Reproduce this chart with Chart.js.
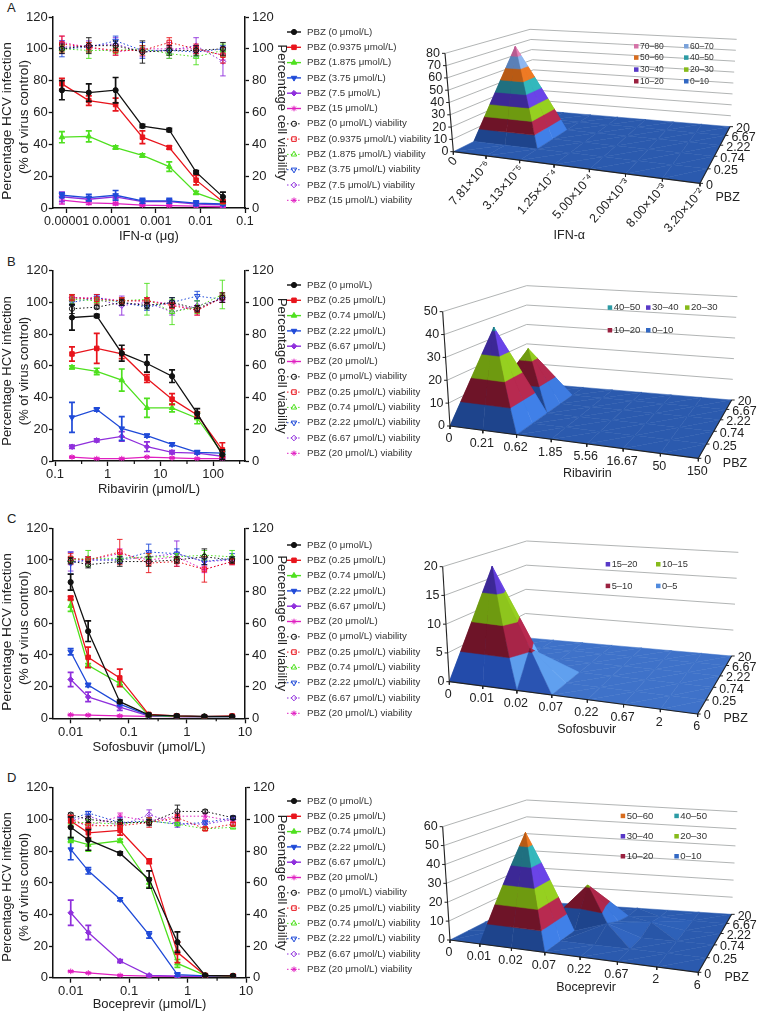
<!DOCTYPE html>
<html>
<head>
<meta charset="utf-8">
<script src="https://cdn.jsdelivr.net/npm/chart.js@4"></script>
<style>
  html, body { margin: 0; padding: 0; background: #fff; }
  #page { position: relative; width: 760px; height: 1013px; overflow: hidden; }
  #page canvas { position: absolute; }
  .tag { position: absolute; font: 13px "Liberation Sans", Arial, sans-serif; color: #222; }
</style>
</head>
<body>
<div id="page">
  <div class="tag" style="left:7px;top:0px">A</div>
  <div class="tag" style="left:7px;top:254px">B</div>
  <div class="tag" style="left:7px;top:511px">C</div>
  <div class="tag" style="left:7px;top:770px">D</div>
  <canvas id="lineA" width="450" height="250" style="left:0;top:0"></canvas>
  <canvas id="lineB" width="450" height="250" style="left:0;top:250px"></canvas>
  <canvas id="lineC" width="450" height="250" style="left:0;top:510px"></canvas>
  <canvas id="lineD" width="450" height="248" style="left:0;top:765px"></canvas>
  <canvas id="surfA" width="345" height="223" style="left:415px;top:20px"></canvas>
  <canvas id="surfB" width="345" height="223" style="left:415px;top:280px"></canvas>
  <canvas id="surfC" width="345" height="223" style="left:415px;top:540px"></canvas>
  <canvas id="surfD" width="345" height="223" style="left:415px;top:790px"></canvas>
</div>
<script>
// --- panel A data
const aDoses = [0.00000781, 0.0000313, 0.000125, 0.0005, 0.002, 0.008, 0.032];
const aPbz = ['0', '0.9375', '1.875', '3.75', '7.5', '15'];
const aInfection = [
  [74, 72.5, 74, 51.5, 49, 22.5, 7],
  [78, 67.5, 65, 44.5, 38, 17.5, 4],
  [44.5, 45, 38, 33, 26, 9.5, 3.5],
  [8, 6.5, 8, 4.5, 4.5, 3, 2.5],
  [7, 5.5, 7, 4, 4, 2.5, 2],
  [5, 3.2, 2.8, 1.8, 1.5, 1.2, 0.8]
];
const aInfectionErr = [
  [6, 5.5, 8, 1, 1, 1, 3],
  [3.5, 3, 4, 4, 1, 3, 1],
  [3.5, 3.5, 1, 1, 3, 1, 0.5],
  [1.5, 2, 3, 1.5, 1.5, 1.5, 0.5],
  [3, 1, 1, 1, 1, 1, 0.5],
  [2.5, 1, 0.8, 0.5, 0.5, 0.3, 0.3]
];
const aViability = [
  [100, 102, 102, 98, 99, 99, 100],
  [103, 101, 99, 99, 104, 100, 96],
  [100, 99, 99, 100, 97, 95, 99],
  [100, 101, 105, 99, 99, 98, 100],
  [101, 102, 103, 98, 99, 102, 92],
  [104, 101, 98, 100, 100, 100, 96]
];
const aViabilityErr = [
  [3, 5, 3, 7, 3, 3, 4],
  [5, 3, 3, 3, 3, 3, 5],
  [2, 5, 2, 2, 3, 5, 4],
  [5, 3, 3, 5, 2, 3, 2],
  [4, 3, 4, 3, 5, 5, 9],
  [4, 2, 2, 2, 2, 2, 3]
];

// --- panel B data
const bDoses = [0.21, 0.62, 1.85, 5.56, 16.67, 50, 150];
const bPbz = ['0', '0.25', '0.74', '2.22', '6.67', '20'];
const bInfection = [
  [90.5, 91.5, 68, 61.5, 53.5, 30, 4],
  [67.5, 71, 67.5, 52, 39, 29, 7],
  [59, 56.5, 51, 33.5, 33.5, 27, 5],
  [27.5, 32.5, 20.5, 16, 10.5, 5.5, 5],
  [9, 13, 15.5, 9, 5.5, 5, 3],
  [2.5, 1.5, 1.5, 2.5, 2, 1.5, 1.5]
];
const bInfectionErr = [
  [8, 1, 5, 5.5, 4, 3, 3],
  [4.5, 9.5, 3, 2.5, 3.5, 2, 4.5],
  [1, 2, 7, 6, 2.5, 3.5, 1],
  [9.5, 1, 7.5, 1, 1, 1, 0.5],
  [1, 1, 3, 3, 1, 0.5, 0.5],
  [0.5, 0.3, 0.3, 0.3, 0.3, 0.3, 0.3]
];
const bViability = [
  [96, 97, 100, 98, 100, 96, 103],
  [103, 102, 101, 101, 98, 95, 103],
  [102, 101, 101, 102, 94, 97, 105],
  [100, 103, 100, 97, 100, 104, 102],
  [103, 102, 98, 100, 94, 98, 102],
  [103, 103, 101, 101, 99, 95, 103]
];
const bViabilityErr = [
  [3, 1, 2, 2, 3, 2, 3],
  [2, 3, 2, 2, 2, 3, 3],
  [3, 2, 2, 10, 8, 4, 9],
  [2, 2, 2, 2, 3, 3, 2],
  [2, 3, 6, 3, 2, 3, 2],
  [2, 2, 2, 2, 2, 3, 2]
];

// --- panel C data
const cDoses = [0.01, 0.02, 0.07, 0.22, 0.67, 2, 6];
const cPbz = ['0', '0.25', '0.74', '2.22', '6.67', '20'];
const cInfection = [
  [86, 55, 10.5, 2.2, 1.5, 1.2, 1.2],
  [76, 38.5, 25.5, 2.5, 1.5, 1, 1.5],
  [71, 33.5, 22, 1.8, 1.2, 1, 1],
  [42, 21, 9, 1.8, 1.2, 1, 1],
  [24.5, 13.5, 7, 1.5, 1, 1, 1],
  [2.2, 2, 1.5, 1.2, 1, 1, 1]
];
const cInfectionErr = [
  [5, 6.5, 1, 1, 0.8, 0.5, 0.5],
  [1, 6.5, 5.5, 0.5, 0.5, 0.3, 0.5],
  [3.5, 1, 1, 0.5, 0.3, 0.3, 0.3],
  [2, 1, 1, 0.3, 0.3, 0.3, 0.3],
  [4.5, 3, 2, 0.3, 0.3, 0.3, 0.3],
  [0.3, 0.3, 0.3, 0.3, 0.3, 0.3, 0.3]
];
const cViability = [
  [99.5, 97, 99, 99, 100, 102, 100],
  [101, 100, 105, 98, 99, 94, 99],
  [100, 101, 101, 102, 102, 103, 102],
  [98, 100, 100, 105, 104, 99, 101],
  [99, 100, 100, 102, 104, 99, 100],
  [101, 100, 104, 100, 102, 94, 99]
];
const cViabilityErr = [
  [2, 2, 3, 3, 2, 5, 2],
  [3, 2, 8, 6, 3, 8, 2],
  [2, 5, 2, 2, 2, 3, 4],
  [7, 2, 2, 5, 3, 2, 3],
  [6, 2, 2, 3, 8, 2, 2],
  [4, 2, 3, 2, 2, 2, 2]
];

// --- panel D data
const dDoses = [0.01, 0.02, 0.07, 0.22, 0.67, 2, 6];
const dPbz = ['0', '0.25', '0.74', '2.22', '6.67', '20'];
const dInfection = [
  [95, 87, 78.5, 62, 22.5, 1.5, 1.2],
  [99, 91.5, 93, 73.5, 16, 1.5, 1.2],
  [87, 84, 86.5, 60, 9, 1.5, 1],
  [81, 67.5, 49.5, 27, 2, 1.2, 1],
  [41, 28.5, 10.5, 1.5, 1, 1, 0.8],
  [4, 3, 1.5, 1, 0.8, 0.8, 0.8]
];
const dInfectionErr = [
  [6.5, 6.5, 1, 5.5, 6.5, 0.5, 0.5],
  [3.5, 3, 3, 1.5, 6.5, 0.5, 0.5],
  [1.5, 4, 1, 3, 2.5, 0.5, 0.3],
  [6.5, 2, 1, 2, 1, 0.3, 0.3],
  [8, 4.5, 1, 0.5, 0.3, 0.3, 0.3],
  [0.3, 0.3, 0.3, 0.3, 0.3, 0.3, 0.3]
];
const dViability = [
  [103, 100, 98, 98, 105, 105, 101],
  [100, 96, 96, 98, 101, 94, 97],
  [98, 98, 97, 99, 97, 94, 95],
  [100, 104, 98, 99, 97, 98, 101],
  [99, 102, 96, 103, 97, 97, 100],
  [99, 96, 102, 99, 102, 102, 99]
];
const dViabilityErr = [
  [1, 2, 2, 2, 4, 1, 1],
  [2, 2, 2, 3, 2, 1, 1],
  [2, 2, 2, 2, 1, 1, 1],
  [2, 1, 3, 2, 1, 1, 1],
  [1, 3, 2, 3, 2, 2, 2],
  [1, 2, 2, 2, 2, 2, 2]
];

// --- 3D surfaces, one row per PBZ level, one column per drug dose
const surfacePbz = ['0', '0.25', '0.74', '2.22', '6.67', '20'];
const aSurfaceDoses = ['0', '7.81×10⁻⁶', '3.13×10⁻⁵', '1.25×10⁻⁴', '5.00×10⁻⁴', '2.00×10⁻³', '8.00×10⁻³', '3.20×10⁻²'];
const aSurface = [
  [0, 0, 0, 0, 0, 0, 0, 0],
  [0, 0, 0, 0, 0, 0, 0, 0],
  [0, 78, 0, 0, 0, 0, 0, 0],
  [0, 0, 0, 0, 0, 0, 0, 0],
  [0, 0, 0, 0, 0, 0, 0, 0],
  [0, 0, 0, 0, 0, 0, 0, 0]
];
const bSurfaceDoses = ['0', '0.21', '0.62', '1.85', '5.56', '16.67', '50', '150'];
const bSurface = [
  [0, 0, 0, 0, 0, 0, 0, 0],
  [0, 41.5, 0, 0, 0, 0, 0, 0],
  [0, 0, 0, 0, 0, 0, 0, 0],
  [0, 25, 0, 0, 0, 0, 0, 0],
  [0, 0, 0, 0, 0, 0, 0, 0],
  [0, 0, 0, 0, 0, 0, 0, 0]
];
const cSurfaceDoses = ['0', '0.01', '0.02', '0.07', '0.22', '0.67', '2', '6'];
const cSurface = [
  [0, 0, 0, 0, 0, 0, 0, 0],
  [0, 19.5, 5.5, 0, 0, 0, 0, 0],
  [0, 0, 0, 0, 0, 0, 0, 0],
  [0, 0, 0, 0, 0, 0, 0, 0],
  [0, 0, 0, 0, 0, 0, 0, 0],
  [0, 0, 0, 0, 0, 0, 0, 0]
];
const dSurfaceDoses = ['0', '0.01', '0.02', '0.07', '0.22', '0.67', '2', '6'];
const dSurface = [
  [0, 0, 0, 0, 0, 0, 0, 0],
  [0, 2, 57, 0, 0, 0, 0, 0],
  [0, 0, 0, 0, 6, 0, 0, 0],
  [0, 0, 0, 21, 2, 3, 0, 0],
  [0, 0, 0, 0, 0, 1, 0, 0],
  [0, 0, 0, 0, 0, 0, 0, 0]
];

// --- styles
const FONT = '"Liberation Sans", Arial, sans-serif';
const INK = '#222';
const COLORS = ['#111111', '#e8141c', '#4fe01f', '#1f4ad8', '#8f2fdc', '#e020c0'];
const MARKERS = [
  { pointStyle: 'circle', rotation: 0, radius: 2.6 },
  { pointStyle: 'rect', rotation: 0, radius: 3.2 },
  { pointStyle: 'triangle', rotation: 0, radius: 3.2 },
  { pointStyle: 'triangle', rotation: 180, radius: 3.2 },
  { pointStyle: 'rectRot', rotation: 0, radius: 2.8 },
  { pointStyle: 'star', rotation: 0, radius: 2.8 }
];
// dark and light face colour of each height band
const BANDS = [
  ['#1e448c', '#4080e8'], ['#6e1428', '#b82a50'], ['#6e9a10', '#96d020'], ['#3c2896', '#6a44e8'],
  ['#207080', '#34b8bc'], ['#b85a14', '#ee7a24'], ['#5a80b8', '#90b8f0'], ['#b85a90', '#e884b8']
];
const BANDS_C0 = ['#234baa', '#6eb4ff'];

// error bars under each dataset, so the layering follows the datasets
const errorBars = {
  id: 'errorBars',
  beforeDatasetDraw(chart, args) {
    const ds = chart.data.datasets[args.index];
    if (!ds.errs) return;
    const { ctx } = chart;
    const sc = chart.scales[ds.yAxisID];
    const cap = ds.viability ? 2.8 : 3;
    ctx.save();
    ctx.strokeStyle = ds.borderColor;
    ctx.lineWidth = ds.viability ? 0.9 : 1.7;
    args.meta.data.forEach((p, i) => {
      const top = sc.getPixelForValue(ds.data[i].y + ds.errs[i]);
      const bot = sc.getPixelForValue(Math.max(0, ds.data[i].y - ds.errs[i]));
      ctx.beginPath();
      ctx.moveTo(p.x, top); ctx.lineTo(p.x, bot);
      ctx.moveTo(p.x - cap, top); ctx.lineTo(p.x + cap, top);
      ctx.moveTo(p.x - cap, bot); ctx.lineTo(p.x + cap, bot);
      ctx.stroke();
    });
    ctx.restore();
  }
};

// short minor ticks on the log axis, the left title and the side legend
const lineExtras = {
  id: 'lineExtras',
  afterDraw(chart, args, opts) {
    const { ctx } = chart;
    const x = chart.scales.x;
    ctx.save();
    ctx.strokeStyle = '#111';
    ctx.lineWidth = 1.2;
    opts.minors.forEach(v => {
      const px = x.getPixelForValue(v);
      ctx.beginPath(); ctx.moveTo(px, x.top); ctx.lineTo(px, x.top + 3); ctx.stroke();
    });
    ctx.save();
    ctx.fillStyle = INK;
    ctx.textAlign = 'center';
    ctx.textBaseline = 'middle';
    ctx.font = opts.titleSize + 'px ' + FONT;
    ctx.translate(7, opts.titleY);
    ctx.rotate(-Math.PI / 2);
    ctx.fillText('Percentage HCV infection', 0, 0);
    ctx.fillText('(% of virus control)', opts.subShift, 17);
    ctx.restore();
    chart.data.datasets.forEach((ds, i) => {
      const y = opts.top + i * 15.3;
      ctx.strokeStyle = ds.borderColor;
      ctx.lineWidth = ds.viability ? 1 : 1.4;
      ctx.setLineDash(ds.borderDash || []);
      ctx.beginPath(); ctx.moveTo(287, y); ctx.lineTo(301, y); ctx.stroke();
      ctx.setLineDash([]);
      ctx.fillStyle = ds.pointBackgroundColor;
      ctx.lineWidth = 1;
      Chart.helpers.drawPoint(ctx, {
        pointStyle: ds.pointStyle, rotation: ds.pointRotation,
        radius: ds.pointRadius, borderWidth: ds.pointBorderWidth
      }, 294, y);
      ctx.fillStyle = '#333';
      ctx.font = '9.7px ' + FONT;
      ctx.textAlign = 'left';
      ctx.textBaseline = 'middle';
      ctx.fillText(ds.label, 307, y);
    });
    ctx.restore();
  }
};

function seriesSet(doses, values, errs, pbz, viability) {
  return values.map((row, s) => ({
    label: 'PBZ (' + pbz[s] + ' μmol/L)' + (viability ? ' viability' : ''),
    data: row.map((v, i) => ({ x: doses[i], y: v })),
    errs: errs[s],
    viability,
    yAxisID: viability ? 'y2' : 'y',
    showLine: true,
    borderColor: COLORS[s],
    borderWidth: viability ? 1 : 1.3,
    borderDash: viability ? [1.5, 2.2] : [],
    pointStyle: MARKERS[s].pointStyle,
    pointRotation: MARKERS[s].rotation,
    pointRadius: MARKERS[s].radius,
    pointBackgroundColor: viability ? 'rgba(255,255,255,0)' : COLORS[s],
    pointBorderColor: COLORS[s],
    pointBorderWidth: 1
  }));
}

function yAxis(position, title, width, padding) {
  return {
    type: 'linear', position, min: 0, max: 120,
    afterBuildTicks: s => { s.ticks = [0, 20, 40, 60, 80, 100, 120].map(value => ({ value })); },
    afterFit: s => { s.width = width; },
    grid: { drawOnChartArea: false, tickLength: 4, tickColor: '#111', tickWidth: 1.3 },
    border: { color: '#111', width: 1.5 },
    ticks: { padding, color: INK, font: { family: FONT, size: 13 } },
    title: { display: !!title, text: title, color: INK, padding: 0, font: { family: FONT, size: 13 } }
  };
}

function lineChart(id, p) {
  const canvas = document.getElementById(id);
  const datasets = seriesSet(p.doses, p.infection, p.infectionErr, p.pbz, false)
    .concat(seriesSet(p.doses, p.viability, p.viabilityErr, p.pbz, true));
  return new Chart(canvas, {
    type: 'scatter',
    data: { datasets },
    options: {
      responsive: false,
      animation: false,
      layout: { padding: { top: p.top, left: 0, right: 450 - 289, bottom: p.pad } },
      plugins: {
        legend: { display: false },
        tooltip: { enabled: false },
        lineExtras: { minors: p.minors, top: p.legendTop, titleY: p.titleY, titleSize: p.titleSize, subShift: p.subShift }
      },
      scales: {
        x: {
          type: 'logarithmic', min: p.xMin, max: p.xMax,
          afterBuildTicks: s => { s.ticks = p.majors.map(value => ({ value })); },
          afterFit: s => { s.height = canvas.height - p.bottom - p.pad; },
          grid: { drawOnChartArea: false, tickLength: 5, tickColor: '#111', tickWidth: 1.3 },
          border: { color: '#111', width: 1.5 },
          ticks: {
            padding: 1, color: INK, maxRotation: 0, autoSkip: false,
            font: { family: FONT, size: p.xTickSize }, callback: v => String(v)
          },
          title: { display: true, text: p.xTitle, color: INK, padding: 0, font: { family: FONT, size: 13 } }
        },
        y: yAxis('left', '', p.left, 1),
        y2: yAxis('right', 'Percentage cell viability', 289 - p.right, 3)
      }
    },
    plugins: [errorBars, lineExtras]
  });
}

lineChart('lineA', {
  doses: aDoses, infection: aInfection, infectionErr: aInfectionErr, viability: aViability, viabilityErr: aViabilityErr,
  pbz: aPbz, xTitle: 'IFN-α (μg)', majors: [0.00001, 0.0001, 0.001, 0.01, 0.1], minors: [], xTickSize: 12.5,
  xMin: 0.00000485, xMax: 0.1, top: 17, bottom: 208, pad: 6, left: 52.7, right: 245, legendTop: 32,
  titleY: 121, titleSize: 13.7, subShift: 4
});
lineChart('lineB', {
  doses: bDoses, infection: bInfection, infectionErr: bInfectionErr, viability: bViability, viabilityErr: bViabilityErr,
  pbz: bPbz, xTitle: 'Ribavirin (μmol/L)', majors: [0.1, 1, 10, 100], minors: [0.32, 3.2, 32, 320], xTickSize: 13,
  xMin: 0.0916, xMax: 404, top: 20.7, bottom: 211, pad: 3, left: 53, right: 245, legendTop: 35,
  titleY: 121, titleSize: 13, subShift: 0
});
lineChart('lineC', {
  doses: cDoses, infection: cInfection, infectionErr: cInfectionErr, viability: cViability, viabilityErr: cViabilityErr,
  pbz: cPbz, xTitle: 'Sofosbuvir (μmol/L)', majors: [0.01, 0.1, 1, 10], minors: [0.032, 0.32, 3.2], xTickSize: 13,
  xMin: 0.00497, xMax: 10, top: 18.3, bottom: 208.3, pad: 5, left: 53, right: 245, legendTop: 35,
  titleY: 122, titleSize: 13.7, subShift: 4
});
lineChart('lineD', {
  doses: dDoses, infection: dInfection, infectionErr: dInfectionErr, viability: dViability, viabilityErr: dViabilityErr,
  pbz: dPbz, xTitle: 'Boceprevir (μmol/L)', majors: [0.01, 0.1, 1, 10], minors: [0.032, 0.32, 3.2], xTickSize: 13,
  xMin: 0.00497, xMax: 10, top: 22.7, bottom: 212.7, pad: 1, left: 53, right: 246, legendTop: 36,
  titleY: 122, titleSize: 13, subShift: 0
});

// --- 3D surfaces

// maps the unit square to a screen quadrilateral
function homography(p) {
  const [[x0, y0], [x1, y1], [x2, y2], [x3, y3]] = p;
  const dx1 = x1 - x2, dx2 = x3 - x2, dx3 = x0 - x1 + x2 - x3;
  const dy1 = y1 - y2, dy2 = y3 - y2, dy3 = y0 - y1 + y2 - y3;
  const den = dx1 * dy2 - dx2 * dy1;
  const g = (dx3 * dy2 - dx2 * dy3) / den, h = (dx1 * dy3 - dx3 * dy1) / den;
  const a = x1 - x0 + g * x1, b = x3 - x0 + h * x3, d = y1 - y0 + g * y1, e = y3 - y0 + h * y3;
  return (u, v) => {
    const w = g * u + h * v + 1;
    return [(a * u + b * v + x0) / w, (d * u + e * v + y0) / w];
  };
}

function mix(c1, c2, t) {
  const rgb = c => [1, 3, 5].map(k => parseInt(c.slice(k, k + 2), 16));
  const a = rgb(c1), b = rgb(c2);
  return 'rgb(' + a.map((v, i) => Math.round(v + (b[i] - v) * t)).join(',') + ')';
}

// keep the part of a polygon whose height is inside lo..hi
function clipBand(poly, lo, hi) {
  const cut = (pts, inside, level) => {
    const out = [];
    pts.forEach((p, i) => {
      const q = pts[(i + 1) % pts.length];
      if (inside(p)) out.push(p);
      if (inside(p) !== inside(q)) {
        const t = (level - p.z) / (q.z - p.z);
        out.push({ u: p.u + (q.u - p.u) * t, v: p.v + (q.v - p.v) * t, z: level });
      }
    });
    return out;
  };
  let res = cut(poly, p => p.z >= lo, lo);
  if (res.length) res = cut(res, p => p.z <= hi, hi);
  return res;
}

function surfaceChart(id, s) {
  const px = ([x, y]) => [x / 3 + 15, y / 3]; // corners are noted at 3x, panel offset 15px
  const floor = homography(s.floor.map(px));
  const roof = homography(s.roof.map(px));
  const nx = s.surface[0].length - 1, ny = s.surface.length - 1;
  // the corners alone give too much foreshortening along the dose axis, ease it back
  const ease = (u, k) => u + k * u * (1 - u);
  const project = (u, v, w) => {
    const a = floor(ease(u, 0.12), v), b = roof(ease(u, s.roofEase), v);
    return [a[0] + (b[0] - a[0]) * w, a[1] + (b[1] - a[1]) * w];
  };
  const datasets = [];
  const line = (pts, color, width) => datasets.push({
    data: pts.map(([x, y]) => ({ x, y })), showLine: true, fill: false, pointRadius: 0,
    borderColor: color, borderWidth: width
  });

  // walls
  for (let z = s.step; z <= s.zMax; z += s.step) {
    const w = z / s.zMax;
    line([project(0, 0, w), project(0, 1, w), project(1, 1, w)], '#a8acac', 0.9);
  }

  // surface, back rows first, bands cut out of each triangle
  const corner = (i, j) => ({ u: i / nx, v: j / ny, z: s.surface[j][i], i, j });
  const triangle = (tri) => {
    const w = p => [p.u * nx, p.v * ny * 0.9, p.z / s.zMax * 3.2];
    const [a, b, c] = tri.map(w);
    const e1 = [b[0] - a[0], b[1] - a[1], b[2] - a[2]], e2 = [c[0] - a[0], c[1] - a[1], c[2] - a[2]];
    let n = [e1[1] * e2[2] - e1[2] * e2[1], e1[2] * e2[0] - e1[0] * e2[2], e1[0] * e2[1] - e1[1] * e2[0]];
    const len = Math.hypot(...n) * (n[2] < 0 ? -1 : 1);
    n = n.map(v => v / len);
    const t = Math.min(1, Math.max(0, 0.37 + 0.67 * n[0] + 0.4 * n[1]));
    for (let k = 0; k * s.step < s.zMax; k++) {
      const poly = clipBand(tri, k * s.step, (k + 1) * s.step);
      if (poly.length < 3) continue;
      const pair = k === 0 && s.firstBand ? s.firstBand : BANDS[k];
      const color = mix(pair[0], pair[1], t);
      const pts = poly.map(p => project(p.u, p.v, p.z / s.zMax));
      pts.push(pts[0]);
      datasets.push({
        data: pts.map(([x, y]) => ({ x, y })), showLine: true, fill: 'shape', pointRadius: 0,
        borderColor: color, backgroundColor: color, borderWidth: 0.5
      });
    }
  };
  for (let j = ny - 1; j >= 0; j--) {
    for (let i = 0; i < nx; i++) {
      const a = corner(i, j), b = corner(i + 1, j), c = corner(i + 1, j + 1), d = corner(i, j + 1);
      if (Math.max(a.z, c.z) >= Math.max(b.z, d.z)) {
        triangle([a, c, d]); triangle([a, b, c]);
      } else {
        triangle([b, c, d]); triangle([a, b, d]);
      }
    }
  }

  // axes
  line([project(0, 0, 0), project(0, 0, 1)], '#222', 1.1);
  line([project(0, 0, 0), project(1, 0, 0)], '#222', 1.1);
  line([project(1, 0, 0), project(1, 1, 0)], '#222', 1.1);
  for (let z = 0; z <= s.zMax; z += s.step) {
    const p = project(0, 0, z / s.zMax);
    line([p, [p[0] - 3, p[1]]], '#222', 1);
  }
  for (let i = 0; i <= nx; i++) {
    const p = project(i / nx, 0, 0);
    line([p, [p[0], p[1] + 3]], '#222', 1);
  }
  for (let j = 0; j <= ny; j++) {
    const p = project(1, j / ny, 0);
    line([p, [p[0] + 3, p[1]]], '#222', 1);
  }
  datasets.reverse(); // Chart.js paints dataset 0 last

  const labels = {
    id: 'surfaceLabels',
    afterDraw(chart) {
      const { ctx } = chart;
      ctx.save();
      ctx.fillStyle = INK;
      ctx.textBaseline = 'middle';
      ctx.font = '12.5px ' + FONT;
      // height labels
      ctx.textAlign = 'right';
      for (let z = 0; z <= s.zMax; z += s.step) {
        const p = project(0, 0, z / s.zMax);
        ctx.fillText(String(z), p[0] - 5, p[1]);
      }
      // dose labels
      s.doses.forEach((t, i) => {
        const p = project(i / nx, 0, 0);
        if (s.rotated) {
          ctx.save();
          ctx.translate(p[0] + 2, p[1] + 7);
          ctx.rotate(-0.85);
          ctx.textAlign = 'right';
          ctx.fillText(t, 0, 0);
          ctx.restore();
        } else {
          ctx.textAlign = 'center';
          ctx.fillText(t, p[0] - 1, p[1] + 13);
        }
      });
      // PBZ labels
      ctx.textAlign = 'left';
      surfacePbz.forEach((t, j) => {
        const p = project(1, j / ny, 0);
        ctx.fillText(t, p[0] + 6, p[1] + 2);
      });
      ctx.textAlign = 'center';
      const tx = px(s.xTitleAt), tz = px(s.pbzTitleAt);
      ctx.fillText(s.xTitle, tx[0], tx[1]);
      ctx.fillText('PBZ', tz[0], tz[1]);
      // band key
      ctx.textAlign = 'left';
      ctx.font = s.keySize + 'px ' + FONT;
      const nBands = Math.round(s.zMax / s.step);
      for (let k = nBands - 1, n = 0; k >= 0; k--, n++) {
        const col = n % s.keyXs.length, row = Math.floor(n / s.keyXs.length);
        const at = px([s.keyXs[col], s.keyYs[row]]);
        const pair = k === 0 && s.firstBand ? s.firstBand : BANDS[k];
        ctx.fillStyle = mix(pair[0], pair[1], 0.6);
        ctx.fillRect(at[0], at[1] - 2, 4.5, 4.5);
        ctx.fillStyle = '#333';
        ctx.fillText((k * s.step) + '–' + ((k + 1) * s.step), at[0] + 6, at[1] + 0.5);
      }
      ctx.restore();
    }
  };

  const canvas = document.getElementById(id);
  return new Chart(canvas, {
    type: 'scatter',
    data: { datasets },
    options: {
      responsive: false,
      animation: false,
      clip: false,
      layout: { padding: 0 },
      plugins: { legend: { display: false }, tooltip: { enabled: false } },
      scales: {
        x: { type: 'linear', min: 0, max: canvas.width, display: false },
        y: { type: 'linear', min: 0, max: canvas.height, reverse: true, display: false }
      }
    },
    plugins: [labels]
  });
}

surfaceChart('surfA', {
  surface: aSurface, doses: aSurfaceDoses, xTitle: 'IFN-α', rotated: true, zMax: 80, step: 10, roofEase: 0.12,
  floor: [[70, 395], [810, 490], [900, 320], [320, 271]],
  roof: [[45, 100], [820, 160], [920, 58], [300, 28]],
  xTitleAt: [418, 647], pbzTitleAt: [893, 533],
  keyXs: [612, 762], keyYs: [78, 112, 148, 183], keySize: 8.5
});
surfaceChart('surfB', {
  surface: bSurface, doses: bSurfaceDoses, xTitle: 'Ribavirin', zMax: 50, step: 10, roofEase: 0.3,
  floor: [[60, 438], [805, 535], [905, 360], [290, 308]],
  roof: [[38, 95], [818, 200], [922, 50], [290, 17]],
  xTitleAt: [472, 582], pbzTitleAt: [915, 550],
  keyXs: [533, 648, 765], keyYs: [82, 150], keySize: 9.6
});
surfaceChart('surfC', {
  surface: cSurface, doses: cSurfaceDoses, xTitle: 'Sofosbuvir', zMax: 20, step: 5, firstBand: BANDS_C0, roofEase: 0.3,
  floor: [[58, 425], [803, 522], [905, 348], [285, 293]],
  roof: [[38, 80], [818, 190], [925, 37], [290, 3]],
  xTitleAt: [470, 570], pbzTitleAt: [917, 537],
  keyXs: [527, 678], keyYs: [72, 137], keySize: 9.3
});
surfaceChart('surfD', {
  surface: dSurface, doses: dSurfaceDoses, xTitle: 'Boceprevir', zMax: 60, step: 10, roofEase: 0.3,
  floor: [[60, 450], [805, 547], [905, 373], [290, 333]],
  roof: [[38, 110], [818, 215], [922, 65], [290, 30]],
  xTitleAt: [468, 593], pbzTitleAt: [920, 562],
  keyXs: [572, 733], keyYs: [77, 138, 198], keySize: 9.6
});
</script>
</body>
</html>
